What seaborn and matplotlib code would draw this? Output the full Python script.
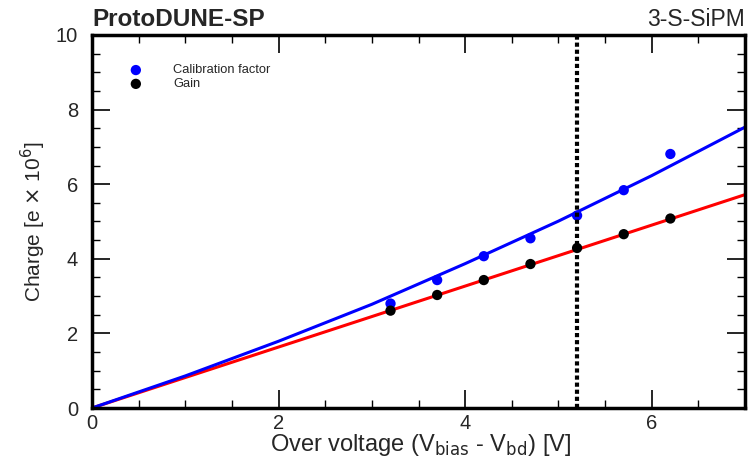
import numpy as np
import pandas as pd
import matplotlib
matplotlib.use("Agg")
import matplotlib.pyplot as plt
import seaborn as sns
from matplotlib.ticker import MultipleLocator

# ---- data ----
overvoltage = [3.2, 3.7, 4.2, 4.7, 5.2, 5.7, 6.2]
calibration = [2.80, 3.43, 4.07, 4.55, 5.16, 5.84, 6.81]
gain = [2.61, 3.03, 3.43, 3.86, 4.29, 4.66, 5.08]

calib_fit_x = [0, 1, 2, 3, 4, 5, 6, 7]
calib_fit_y = [0, 0.86, 1.79, 2.78, 3.87, 5.01, 6.23, 7.53]
gain_fit_x = [0, 7]
gain_fit_y = [0, 5.72]

op_voltage = 5.2

sns.set_theme(style="ticks")
plt.rcParams['font.family'] = ['Liberation Sans', 'DejaVu Sans']

fig = plt.figure(figsize=(7.52, 4.63), dpi=100)
ax = fig.add_axes([92/752, 1-408/463, (745-92)/752, (408-35)/463])

df_pts = pd.DataFrame({"x": overvoltage, "cal": calibration, "gain": gain})
sns.lineplot(x=gain_fit_x, y=gain_fit_y, ax=ax, color="#ff0000", lw=2.2)
sns.lineplot(x=calib_fit_x, y=calib_fit_y, ax=ax, color="#0000ff", lw=2.2)
sns.scatterplot(data=df_pts, x="x", y="cal", ax=ax, color="#0000ff", s=55,
                edgecolor="none", zorder=5)
sns.scatterplot(data=df_pts, x="x", y="gain", ax=ax, color="black", s=55,
                edgecolor="none", zorder=5)
ax.axvline(op_voltage, color="black", lw=3, linestyle=(0, (1.0, 0.7)), zorder=6)

ax.set_xlim(0, 7)
ax.set_ylim(0, 10)
ax.xaxis.set_major_locator(MultipleLocator(2))
ax.xaxis.set_minor_locator(MultipleLocator(0.5))
ax.yaxis.set_major_locator(MultipleLocator(2))
ax.yaxis.set_minor_locator(MultipleLocator(0.5))
ax.tick_params(which="both", direction="in", top=True, right=True,
               labelsize=14.5, color="black")
ax.tick_params(axis="x", which="major", pad=4)
ax.tick_params(axis="y", which="major", pad=10)
ax.tick_params(which="major", length=13, width=1.2)
ax.tick_params(which="minor", length=6, width=1.0)
for s in ax.spines.values():
    s.set_linewidth(2.5)
    s.set_color("black")

ax.set_xlabel("")
ax.set_ylabel("")
fig.text(421/752, 1-451/463, r"Over voltage (V$_{\mathrm{bias}}$ - V$_{\mathrm{bd}}$) [V]",
         ha="center", va="baseline", fontsize=17)
fig.text(33/752, 1-222/463, r"Charge [e $\times$ 10$^{6}$]", rotation=90,
         ha="center", va="center", fontsize=15)

fig.text(92/752, 1-20/463, "ProtoDUNE-SP", fontweight="bold", fontsize=17.5,
         ha="left", va="center")
fig.text(745/752, 1-20/463, "3-S-SiPM", fontsize=16.5, ha="right", va="center")

# legend
ax.scatter([0.47], [9.06], color="#0000ff", s=55, edgecolor="none", zorder=7)
ax.scatter([0.47], [8.69], color="black", s=55, edgecolor="none", zorder=7)
ax.text(0.87, 9.06, "Calibration factor", fontsize=9.3, va="center", ha="left")
ax.text(0.87, 8.69, "Gain", fontsize=9.3, va="center", ha="left")

fig.savefig("out.png", dpi=100)
